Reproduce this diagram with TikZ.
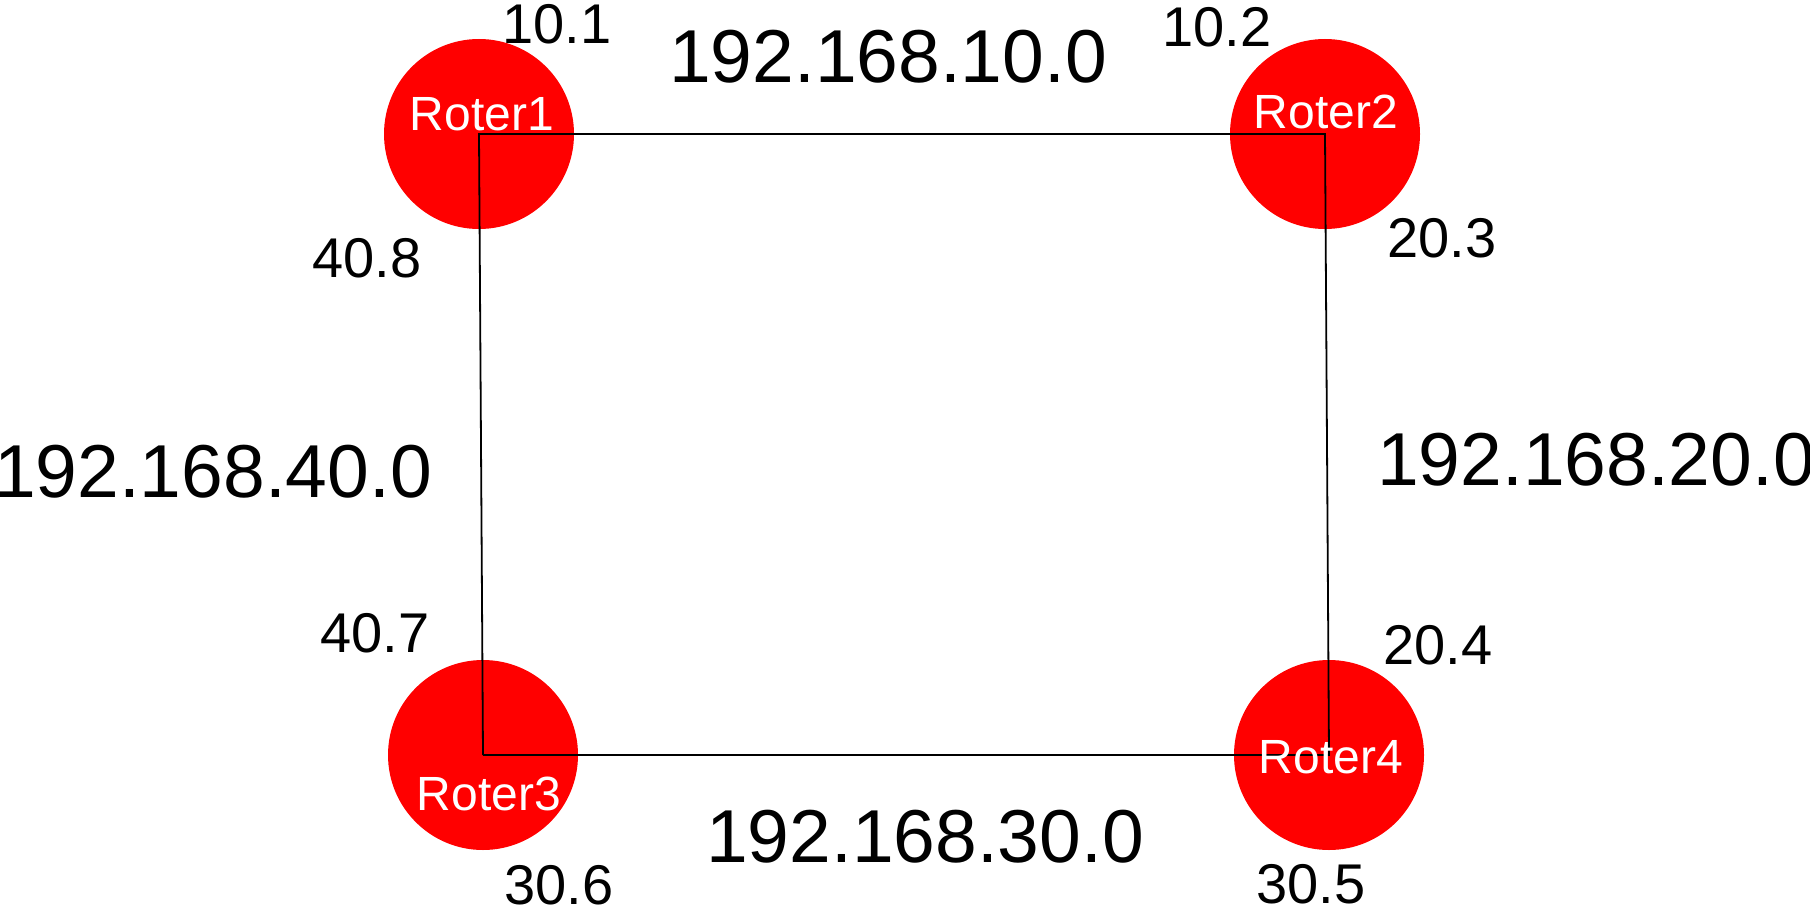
\documentclass[tikz,border=0pt]{standalone}
\usepackage{fontspec}
\setmainfont{Liberation Sans}
\begin{document}
\begin{tikzpicture}[x=1pt,y=-1pt,
  router/.style={circle,fill=red,draw=none,minimum size=190pt,inner sep=0pt},
  rlabel/.style={anchor=base,inner sep=0pt,text=white,font=\fontsize{48}{48}\selectfont},
  iplabel/.style={anchor=base,inner sep=0pt,font=\fontsize{56}{56}\selectfont},
  netlabel/.style={anchor=base,inner sep=0pt,font=\fontsize{75}{75}\selectfont},
  link/.style={draw=black,line width=1.8pt}]
\useasboundingbox (0,0) rectangle (1810,907);
\node[router] (r1) at (479,134) {};
\node[router] (r2) at (1325,134) {};
\node[router] (r3) at (483,755) {};
\node[router] (r4) at (1329,755) {};
\draw[link] (r3.center) -- (r1.center) -- (r2.center) -- (r4.center) -- (r3.center);
\node[rlabel] (t1) at (482,130) {Roter1};
\node[rlabel] (t2) at (1326,128) {Roter2};
\node[rlabel] (t3) at (489,810) {Roter3};
\node[rlabel] (t4) at (1331,773) {Roter4};
\node[iplabel] (a101) at (557,44) {10.1};
\node[iplabel] (a102) at (1217,47) {10.2};
\node[iplabel] (a408) at (367,277) {40.8};
\node[iplabel] (a203) at (1442,257) {20.3};
\node[iplabel] (a407) at (375,652) {40.7};
\node[iplabel] (a204) at (1438,664) {20.4};
\node[iplabel] (a306) at (559,904) {30.6};
\node[iplabel] (a305) at (1311,903) {30.5};
\node[netlabel] (n10) at (888,82) {192.168.10.0};
\node[netlabel] (n40) at (213,497) {192.168.40.0};
\node[netlabel] (n20) at (1596,485) {192.168.20.0};
\node[netlabel] (n30) at (925,862) {192.168.30.0};
\end{tikzpicture}
\end{document}
